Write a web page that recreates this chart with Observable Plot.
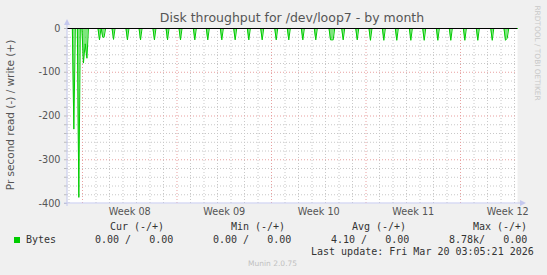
<!DOCTYPE html>
<html><head><meta charset="utf-8">
<script src="https://cdn.jsdelivr.net/npm/d3@7"></script>
<script src="https://cdn.jsdelivr.net/npm/@observablehq/plot@0.6"></script>
<style>
html,body{margin:0;padding:0;background:#f0f0f0;}
#wrap{position:relative;width:547px;height:275px;background:#f0f0f0;overflow:hidden;font-family:"DejaVu Sans",sans-serif;}
#wrap svg{position:absolute;left:0;top:0;}
.t{position:absolute;white-space:pre;line-height:1;}
.mono{font-family:"DejaVu Sans Mono",monospace;font-size:10px;color:#333;}
</style></head><body><div id="wrap"></div>
<script>
// ---- data (x in days since Mon 2026-02-16 00:00, start of ISO week 08) ----
const weekLabels = ["Week 08", "Week 09", "Week 10", "Week 11", "Week 12"];
const weekStartDays = [0, 7, 14, 21, 28];
const yTickValues = [0, -100, -200, -300, -400];
const viewStartDay = -1.11;
const viewEndDay = 32.22;
const sampleStep = 0.11; // width of one spike side (days)

const spikeDays = [-0.64, -0.27, 0.07, 0.2, 0.33, 1.26, 1.5, 1.6, 2.30, 3.33, 4.30, 5.33, 6.30, 7.26,
  8.32, 9.28, 10.32, 11.31, 12.32, 13.31, 14.35, 15.28, 16.32, 17.28, 18.37, 18.57, 19.31, 20.35,
  21.33, 22.32, 23.28, 24.32, 25.31, 26.32, 27.28, 28.32, 29.28, 30.35, 31.33, 31.46];
const spikeValues = [-230, -386, -79, -35, -68, -26, -20, -20, -25, -26, -26, -26, -26, -26,
  -26, -26, -26, -26, -26, -26, -26, -26, -26, -26, -26, -26, -26, -26,
  -27, -27, -27, -27, -27, -27, -27, -27, -27, -27, -27, -22];

const legendName = "Bytes";
const legendHeaders = ["Cur (-/+)", "Min (-/+)", "Avg (-/+)", "Max (-/+)"];
const legendValues = ["0.00 /   0.00", "0.00 /   0.00", "4.10 /   0.00", "8.78k/   0.00"];
const titleText = "Disk throughput for /dev/loop7 - by month";
const yLabelText = "Pr second read (-) / write (+)";
const lastUpdate = "Last update: Fri Mar 20 03:05:21 2026";

// build the series: each reading drops from / returns to the zero baseline
const series = [{d: viewStartDay, v: 0}];
spikeDays.forEach((d, i) => {
  if (i === 0 || d - spikeDays[i - 1] > 2 * sampleStep) series.push({d: d - sampleStep, v: 0});
  series.push({d, v: spikeValues[i]});
  if (i === spikeDays.length - 1 || spikeDays[i + 1] - d > 2 * sampleStep) series.push({d: d + sampleStep, v: 0});
});
series.push({d: viewEndDay, v: 0});

const minorX = d3.range(-1, 33).filter(d => !weekStartDays.includes(d));
const minorY = d3.range(-380, 0, 20).filter(d => d % 100 !== 0);

const plot = Plot.plot({
  width: 547, height: 275,
  marginLeft: 67, marginRight: 30, marginTop: 28, marginBottom: 72,
  style: {background: "transparent", fontFamily: "DejaVu Sans, sans-serif", fontSize: "9.7px", color: "#555"},
  x: {domain: [viewStartDay, viewEndDay], axis: null, label: null},
  y: {domain: [-400, 0], axis: null, label: null},
  marks: [
    Plot.frame({fill: "white", stroke: null}),
    Plot.ruleX(minorX, {stroke: "#c8c8c8", strokeDasharray: "1,2"}),
    Plot.ruleY(minorY, {stroke: "#c8c8c8", strokeDasharray: "1,2"}),
    Plot.ruleX(weekStartDays, {stroke: "#e8a0a0", strokeDasharray: "1,2"}),
    Plot.ruleY([-100, -200, -300], {stroke: "#e8a0a0", strokeDasharray: "1,2"}),
    Plot.areaY(series, {x: "d", y: "v", fill: "#00cc00", fillOpacity: 0.5, curve: "linear"}),
    Plot.lineY(series, {x: "d", y: "v", stroke: "#00cc00", strokeWidth: 1, curve: "linear"}),
    Plot.axisY({ticks: d3.range(-400, 1, 20), tickSize: 3, tickPadding: 4, stroke: "#bbb", label: null,
      tickFormat: d => (d % 100 === 0 ? String(d) : ""), fill: "#555", fontSize: "9.7px"}),
    Plot.axisX({ticks: weekStartDays.map(d => d + 3.5), tickSize: 0, tickPadding: 5, label: null,
      tickFormat: (d, i) => weekLabels[i], fill: "#555", fontSize: "9.7px"}),
    Plot.ruleY([0], {stroke: "#000", strokeWidth: 1.2})
  ]
});

const wrap = document.getElementById("wrap");
wrap.appendChild(plot);

// axis lines with arrows (rrdtool style)
const sx = plot.scale("x"), sy = plot.scale("y");
const x0 = sx.apply(viewStartDay), x1 = sx.apply(viewEndDay);
const yB = sy.apply(-400), yT = sy.apply(0);
const svg = d3.select(plot);
const axc = "#c4c8ee";
svg.append("line").attr("x1", x0).attr("x2", x0).attr("y1", yB + 3).attr("y2", yT - 4).attr("stroke", axc);
svg.append("line").attr("x1", x0 - 3).attr("x2", x1 + 4).attr("y1", yB).attr("y2", yB).attr("stroke", axc);
svg.append("path").attr("d", `M${x0 - 3},${yT - 3}L${x0 + 3},${yT - 3}L${x0},${yT - 9}Z`).attr("fill", axc);
svg.append("path").attr("d", `M${x1 + 3},${yB - 3}L${x1 + 3},${yB + 3}L${x1 + 9},${yB}Z`).attr("fill", axc);

function addText(txt, css, cls) {
  const el = document.createElement("div");
  el.className = "t" + (cls ? " " + cls : "");
  el.textContent = txt;
  Object.assign(el.style, css);
  wrap.appendChild(el);
  return el;
}
// title
addText(titleText, {left: "292px", top: "12px", transform: "translateX(-50%)", fontSize: "12.5px", color: "#555"});
// y label
addText(yLabelText, {left: "10px", top: "115px", transform: "translate(-50%,-50%) rotate(-90deg)", fontSize: "10.5px", color: "#555"});
// watermark
addText("RRDTOOL / TOBI OETIKER", {left: "537px", top: "53px", transform: "translate(-50%,-50%) rotate(90deg)", fontSize: "7.4px", color: "#c8c8c8"});
// legend
const headerX = [137, 258, 379, 500];
legendHeaders.forEach((h, i) => addText(h, {left: headerX[i] + "px", top: "222px", transform: "translateX(-50%)"}, "mono"));
const valueRight = [173, 291, 409, 527];
legendValues.forEach((v, i) => addText(v, {left: (valueRight[i] - 78) + "px", top: "235px"}, "mono"));
const sw = document.createElement("div");
Object.assign(sw.style, {position: "absolute", left: "14px", top: "237px", width: "6px", height: "6px", background: "#00cc00"});
wrap.appendChild(sw);
addText(legendName, {left: "26px", top: "235px"}, "mono");
addText(lastUpdate, {left: "311px", top: "247px"}, "mono");
addText("Munin 2.0.75", {left: "248px", top: "260px", fontSize: "7.5px", color: "#c0c0c0"});
</script></body></html>
